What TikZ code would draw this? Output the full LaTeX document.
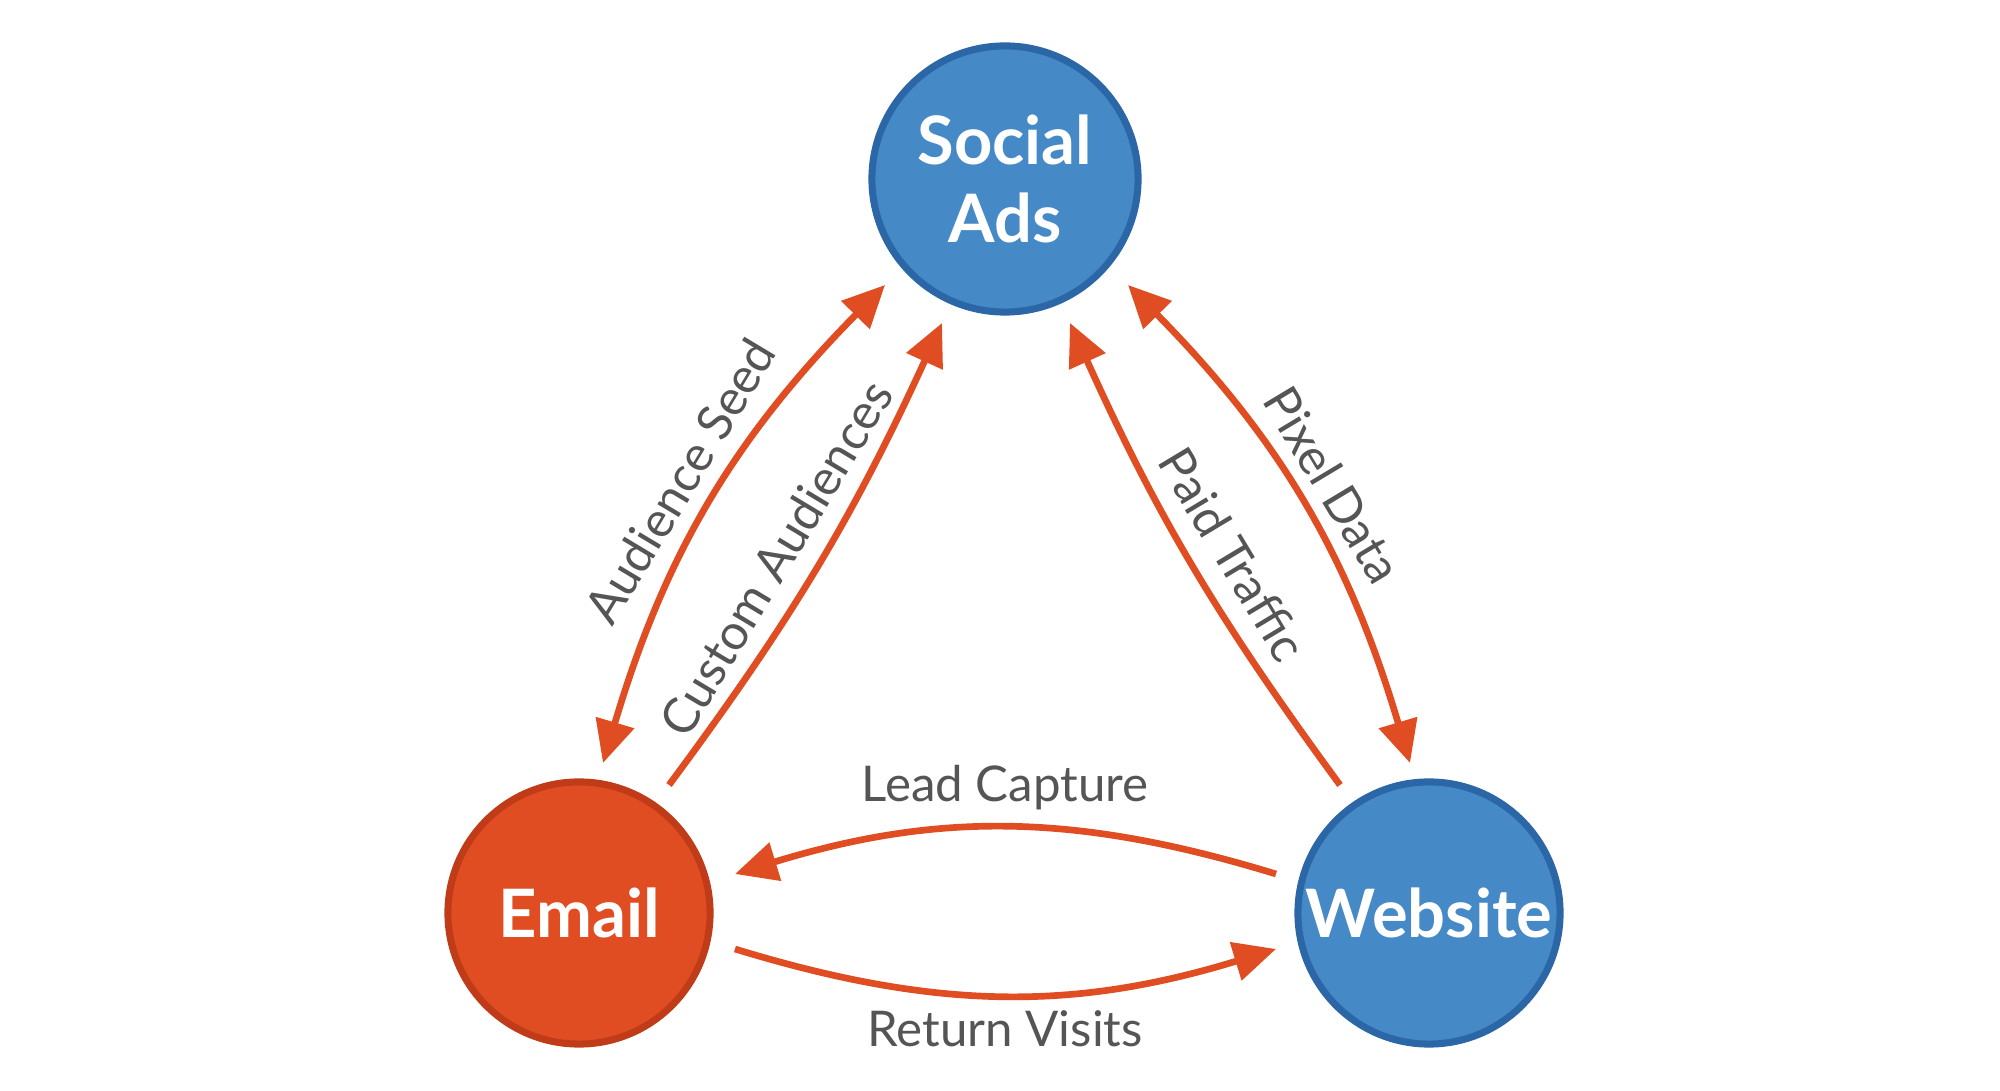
\documentclass[tikz,border=0pt]{standalone}
\usepackage{fontspec}
\setmainfont{Lato}
\usetikzlibrary{arrows.meta}
\definecolor{bl}{HTML}{4589C7}
\definecolor{blb}{HTML}{2B66A6}
\definecolor{orf}{HTML}{E04D22}
\definecolor{orb}{HTML}{C03C18}
\definecolor{tx}{HTML}{555555}
\begin{document}
\begin{tikzpicture}[x=0.01cm,y=0.01cm,
  hub/.style={circle,line width=2pt,text=white,font=\fontsize{19}{22}\selectfont\bfseries,align=center,inner sep=0pt},
  lnk/.style={draw=orf,line width=1.9pt,-{Triangle[length=12pt,width=11pt]}},
  bi/.style={lnk,{Triangle[length=12pt,width=11pt]}-{Triangle[length=12pt,width=11pt]}},
  lab/.style={text=tx,font=\fontsize{14}{17}\selectfont}]
\useasboundingbox (0,0) rectangle (2000,1091);
\fill[white] (0,0) rectangle (2000,1091);
\node[hub,minimum size=2.66cm,fill=bl,draw=blb] (soc) at (1005,912) {Social\\Ads};
\node[hub,minimum size=2.62cm,fill=orf,draw=orb] (em) at (579,178) {Email};
\node[hub,minimum size=2.62cm,fill=bl,draw=blb] (web) at (1429,178) {Website};
\coordinate (a1) at (885,806); \coordinate (a2) at (603,328);
\coordinate (c1) at (669,306); \coordinate (c2) at (942,768);
\coordinate (p1) at (1340,306); \coordinate (p2) at (1070,768);
\coordinate (d1) at (1128,806); \coordinate (d2) at (1410,328);
\coordinate (l1) at (1276,217); \coordinate (l2) at (735,217);
\coordinate (r1) at (735,142); \coordinate (r2) at (1276,142);
\draw[bi] (a1) to[bend right=14] (a2);
\draw[lnk] (c1) to[bend right=6] (c2);
\draw[lnk] (p1) to[bend left=6] (p2);
\draw[bi] (d1) to[bend left=14] (d2);
\draw[lnk] (l1) to[bend right=17] (l2);
\draw[lnk] (r1) to[bend right=17] (r2);
\node[lab,rotate=59] (tas) at (680,610) {Audience Seed};
\node[lab,rotate=59] (tca) at (776,533) {Custom Audiences};
\node[lab,rotate=-59] (tpt) at (1233,537) {Paid Traffic};
\node[lab,rotate=-59] (tpd) at (1333,606) {Pixel Data};
\node[lab] (tlc) at (1005,303) {Lead Capture};
\node[lab] (trv) at (1005,62) {Return Visits};
\end{tikzpicture}
\end{document}
